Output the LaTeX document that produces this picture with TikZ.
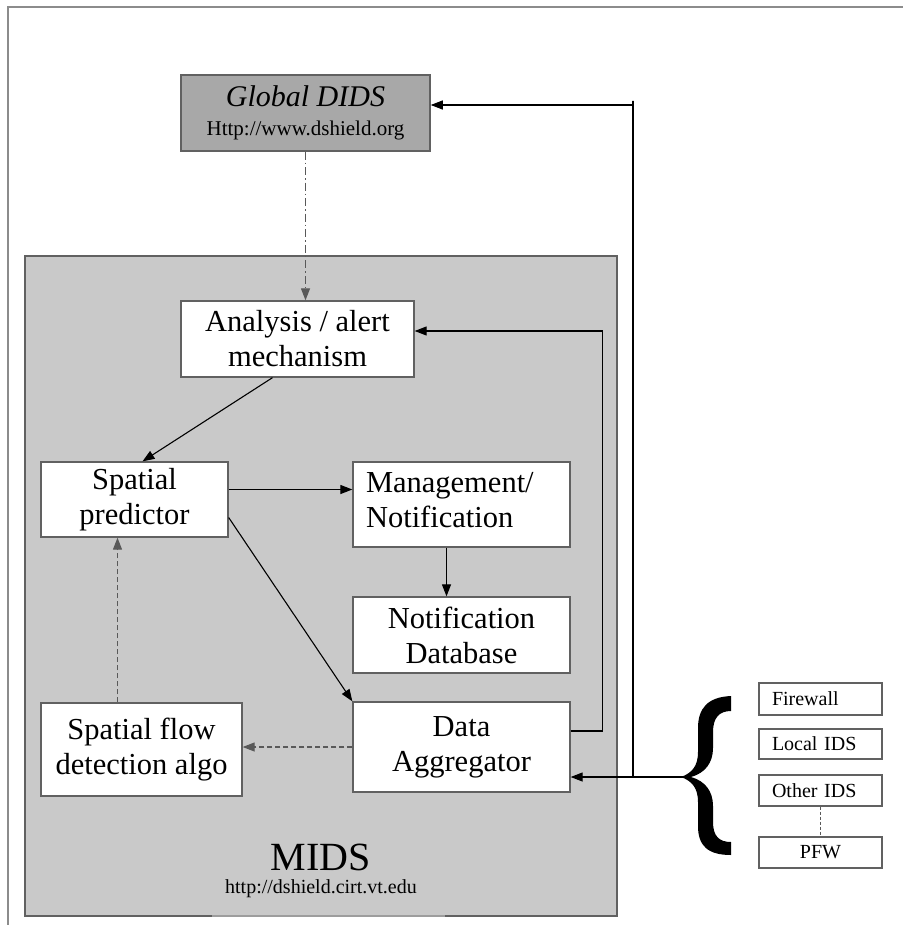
\documentclass[tikz,border=0pt]{standalone}
\usepackage{fontspec}
\setmainfont{Liberation Serif}
\usetikzlibrary{arrows.meta,calc}
\definecolor{boxline}{gray}{0.38}
\definecolor{framecol}{gray}{0.55}
\definecolor{midsfill}{gray}{0.79}
\definecolor{gfill}{gray}{0.66}
\definecolor{dashcol}{gray}{0.35}
\begin{document}
\begin{tikzpicture}[x=1pt,y=-1pt,
  sbox/.style={draw=boxline,line width=1.3pt,fill=white,inner sep=0pt,align=center,font=\fontsize{30.5}{35}\selectfont},
  smallbox/.style={draw=boxline,line width=1.1pt,fill=white,inner sep=0pt,minimum width=123pt,font=\fontsize{20}{22}\selectfont},
  arr/.style={draw=black,line width=1.1pt,-{Triangle[length=12pt,width=9pt]}},
  dasharr/.style={draw=dashcol,line width=1.1pt,dash pattern=on 5pt off 3pt,-{Triangle[length=12pt,width=9pt]}},
  dotarr/.style={draw=dashcol,line width=1.1pt,dash pattern=on 8pt off 3pt on 1.5pt off 3pt,-{Triangle[length=12pt,width=9pt]}},
  plain/.style={draw=black,line width=1.1pt}]
\useasboundingbox (0,0) rectangle (903,925);
\fill[white] (0,0) rectangle (903,925);
% outer frame
\draw[framecol,line width=1.5pt] (8,925) -- (8,7) -- (903,7);

% MIDS container
\node[draw=boxline,line width=1.5pt,fill=midsfill,minimum width=592pt,minimum height=660pt,inner sep=0pt] (mids) at (321,586) {};
\draw[gray!60!midsfill,line width=1.6pt] (212,916) -- (445,916);
\node[anchor=base,font=\fontsize{40}{40}\selectfont] (midst) at (321,870) {MIDS};
\node[anchor=base,font=\fontsize{20}{20}\selectfont] (midsu) at (321,893) {http://dshield.cirt.vt.edu};

% Global DIDS
\node[draw=boxline,line width=1.5pt,fill=gfill,minimum width=249pt,minimum height=76pt,inner sep=0pt,align=center,font=\fontsize{21}{29}\selectfont] (G) at (305.5,113) {{\fontsize{30}{29}\selectfont\itshape Global DIDS}\\Http://www.dshield.org};

% inner boxes
\node[sbox,minimum width=233pt,minimum height=76pt] (A) at (297.5,339) {Analysis / alert\\mechanism};
\node[sbox,minimum width=187pt,minimum height=75pt] (SP) at (134.5,499.5) {Spatial\\predictor};
\node[sbox,minimum width=217pt,minimum height=85pt,align=left,text width=191pt] (MN) at (461.5,504.5) {Management/\\Notification\rule[-9pt]{0pt}{0pt}};
\node[sbox,minimum width=217pt,minimum height=76pt] (ND) at (461.5,635) {Notification\\Database};
\node[sbox,minimum width=201pt,minimum height=93pt] (SF) at (141.5,749.5) {Spatial flow\\detection algo};
\node[sbox,minimum width=217pt,minimum height=90pt] (DA) at (461.5,747) {Data\\Aggregator};

% sources
\node[smallbox,minimum height=32pt,align=left,text width=97pt] (FW) at (820.5,699) {Firewall};
\node[smallbox,minimum height=30pt,align=left,text width=97pt] (LI) at (820.5,744) {Local IDS};
\node[smallbox,minimum height=31pt,align=left,text width=97pt] (OI) at (820.5,790.5) {Other IDS};
\node[smallbox,minimum height=31pt,align=center] (PF) at (820.5,852.5) {PFW};

% brace
\fill[black] (731,696) .. controls (708,697) and (698,708) .. (698,728)
  -- (698,752) .. controls (698,766) and (692,773) .. (681,777)
  .. controls (692,781) and (698,788) .. (698,802)
  -- (698,826) .. controls (698,846) and (708,855) .. (731,855)
  -- (731,842) .. controls (719,842) and (713,836) .. (713,822)
  -- (713,806) .. controls (713,791) and (705,781) .. (691,777)
  .. controls (705,773) and (713,763) .. (713,748)
  -- (713,732) .. controls (713,718) and (719,711) .. (731,711) -- cycle;
\coordinate (bt) at (683,777);
\coordinate (jn) at (633,777);

% connectors
\draw[dotarr] (G.south) -- (G.south |- A.north);
\draw[arr] ([xshift=-25pt]A.south) -- ([xshift=8pt]SP.north);
\draw[arr] ([yshift=10pt]SP.east) -- ([yshift=10pt]SP.east -| MN.west);
\draw[arr] ([xshift=-15pt]MN.south) -- ([xshift=-15pt]MN.south |- ND.north);
\draw[arr] ([yshift=-18pt]SP.east) -- (DA.north west);
\draw[dasharr] (DA.west) -- (DA.west -| SF.east);
\draw[dasharr] ([xshift=-24pt]SF.north) -- ([xshift=-24pt]SF.north |- SP.south);
\draw[arr] ([yshift=16pt]DA.east) -- ++(32pt,0) |- ([yshift=8pt]A.east);
\draw[arr] (bt) -- ([yshift=-30pt]DA.east);
\draw[arr] (jn) -- (633,101) |- ([yshift=8pt]G.east);
\draw[draw=dashcol,line width=1pt,dash pattern=on 3pt off 2pt] (OI.south) -- (PF.north);
\end{tikzpicture}
\end{document}
